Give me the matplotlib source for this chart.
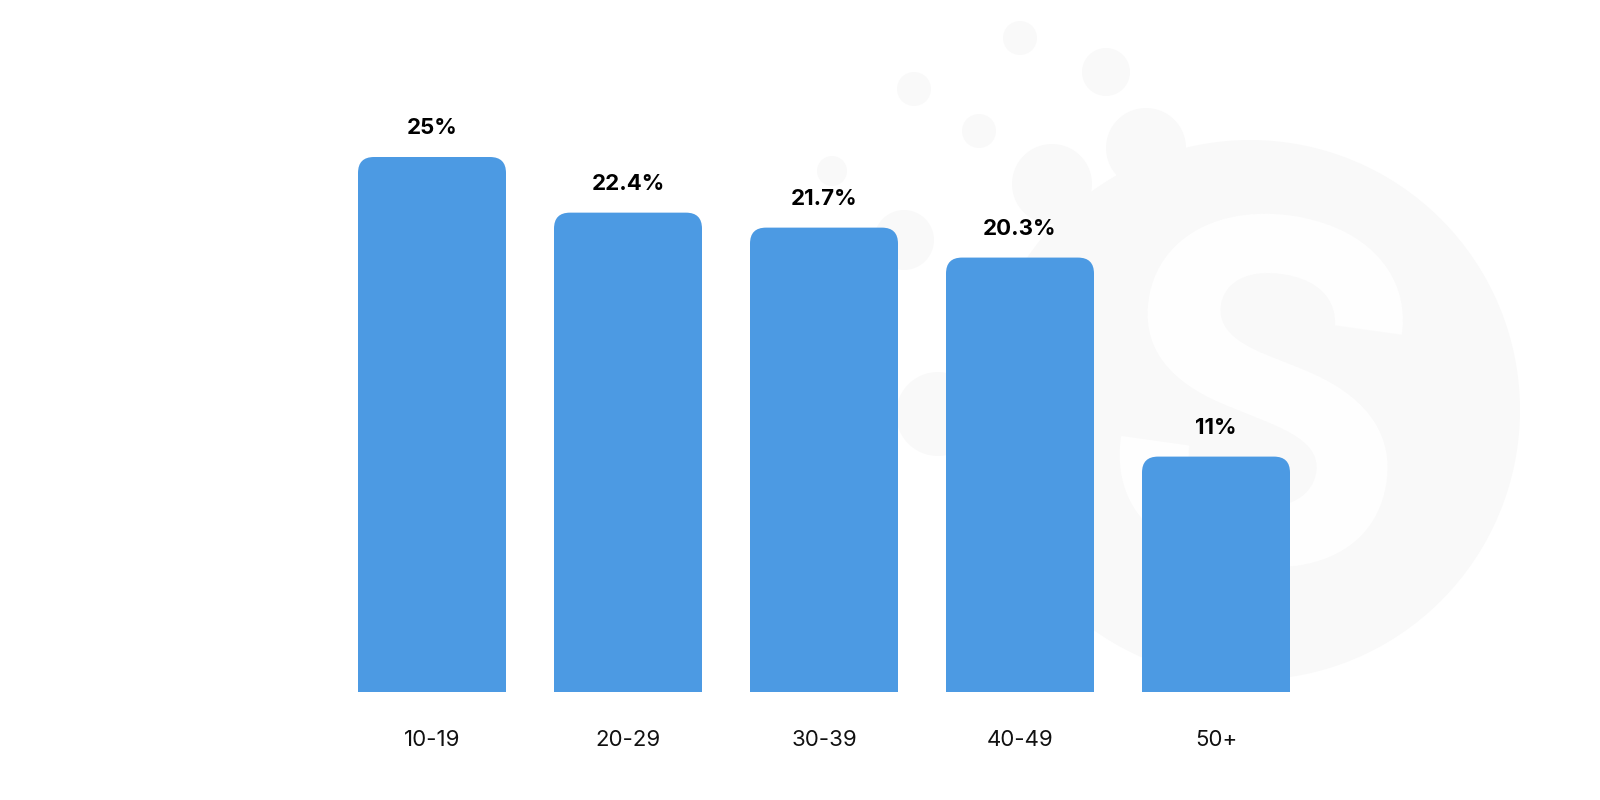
import matplotlib
matplotlib.use("Agg")
import matplotlib.pyplot as plt
from matplotlib.patches import FancyBboxPatch, Rectangle, Circle, Ellipse

categories = ["10-19", "20-29", "30-39", "40-49", "50+"]
values = [25, 22.4, 21.7, 20.3, 11]
labels = ["25%", "22.4%", "21.7%", "20.3%", "11%"]

BAR_COLOR = "#4C9AE3"
WM_COLOR = "#F9F9F9"
FONT = ["Inter", "DejaVu Sans"]

W, H = 1600, 800
fig = plt.figure(figsize=(16, 8), dpi=100)
fig.patch.set_facecolor("white")

# Watermark layer in pixel coordinates (decorative)
bg = fig.add_axes([0, 0, 1, 1], zorder=0)
bg.set_xlim(0, W)
bg.set_ylim(H, 0)
bg.set_aspect("equal")
bg.axis("off")
bg.add_patch(Ellipse((1250, 410), 540, 540, color=WM_COLOR, lw=0))
for (cx, cy, r) in [(1020, 38, 17), (1106, 72, 24), (914, 89, 17), (979, 131, 17),
                    (832, 171, 15), (1052, 184, 40), (1146, 148, 40), (904, 240, 30),
                    (938, 414, 42)]:
    bg.add_patch(Circle((cx, cy), r, color=WM_COLOR, lw=0))
bg.text(1256, 440, "S", fontsize=340, fontweight="bold", color="white",
        ha="center", va="center", family=FONT, rotation=-8)

# Chart axes: bar baseline at 692 px from top
px_per_unit_x = 196.0
px_per_unit_y = 21.4
base_px = 108.0  # from bottom
ax = fig.add_axes([0, base_px / H, 1, 1 - base_px / H], zorder=1)
ax.patch.set_alpha(0)
x0 = 432.0
ax.set_xlim(-x0 / px_per_unit_x, (W - x0) / px_per_unit_x)
ax.set_ylim(0, (H - base_px) / px_per_unit_y)
ax.axis("off")

bar_w = 148 / px_per_unit_x
rad_px = 16
rx = rad_px / px_per_unit_x
ry = rad_px / px_per_unit_y
for i, v in enumerate(values):
    left = i - bar_w / 2
    ax.add_patch(FancyBboxPatch((left, 0), bar_w, v,
                                boxstyle=f"round,pad=0,rounding_size={rx}",
                                mutation_aspect=ry / rx,
                                facecolor=BAR_COLOR, edgecolor="none"))
    ax.add_patch(Rectangle((left, 0), bar_w, v - ry, facecolor=BAR_COLOR, edgecolor="none"))
    ax.text(i, v + 29 / px_per_unit_y, labels[i], ha="center", va="center",
            fontsize=16, fontweight="bold", color="#000000", family=FONT)
    ax.text(i, -48 / px_per_unit_y, categories[i], ha="center", va="center",
            fontsize=16, color="#111111", family=FONT, clip_on=False)

fig.savefig("out.png", dpi=100, facecolor="white")
